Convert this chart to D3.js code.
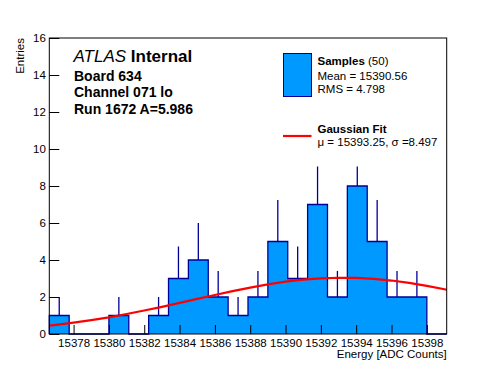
<!DOCTYPE html>
<html>
<head>
<meta charset="utf-8">
<script src="https://cdn.jsdelivr.net/npm/d3@7"></script>
<style>
  body { margin: 0; background: #fff; }
  text { font-family: "Liberation Sans", Arial, Helvetica, sans-serif; }
</style>
</head>
<body>
<svg id="canvas"></svg>
<script>
// histogram: 20 bins between xLow and xHigh
let xLow = 15376.625
let xHigh = 15399.125
let binCounts = [1, 0, 0, 1, 0, 1, 3, 4, 2, 1, 2, 5, 3, 7, 2, 8, 5, 2, 2, 0]
let binErrors = [1, 0, 0, 1, 0, 1, 1.73, 2, 1.41, 1, 1.41, 2.24, 1.73, 2.65, 1.41, 2.83, 2.24, 1.41, 1.41, 0]

// gaussian fit curve
let fitX = [15376.625, 15377, 15378, 15379, 15380, 15381, 15382, 15383, 15384, 15385, 15386, 15387,
            15388, 15389, 15390, 15391, 15392, 15393, 15394, 15395, 15396, 15397, 15398, 15399, 15399.125]
let fitY = [0.45, 0.49, 0.61, 0.75, 0.90, 1.08, 1.27, 1.47, 1.68, 1.90, 2.11, 2.32,
            2.51, 2.68, 2.83, 2.94, 3.01, 3.04, 3.03, 2.98, 2.89, 2.76, 2.60, 2.42, 2.39]

let xTicks = [15378, 15380, 15382, 15384, 15386, 15388, 15390, 15392, 15394, 15396, 15398]
let yTicks = [0, 2, 4, 6, 8, 10, 12, 14, 16]

let headerLines = ['Board 634', 'Channel 071 lo', 'Run 1672 A=5.986']
let legendSamples = ['Mean = 15390.56', 'RMS = 4.798']
let legendFit = '\u03bc = 15393.25, \u03c3 =8.497'

let fillColor = 'rgb(0, 153, 255)'
let lineColor = 'rgb(0, 0, 153)'

let svg = d3.select('#canvas')
            .attr('width', 496)
            .attr('height', 372)

let plotLeft = 49.3, plotRight = 446.7, plotTop = 38, plotBottom = 334

let x = d3.scaleLinear().domain([xLow, xHigh]).range([plotLeft, plotRight])
let y = d3.scaleLinear().domain([0, 16]).range([plotBottom, plotTop])

let binWidth = (xHigh - xLow) / binCounts.length
let bins = binCounts.map((c, i) => {
    return {x0: xLow + i * binWidth, x1: xLow + (i + 1) * binWidth, n: c, err: binErrors[i]}
})

// error bars first (the fill hides their lower half)
svg.selectAll('.err')
    .data(bins.filter((b) => b.n > 0))
    .enter()
    .append('line')
    .attr('class', 'err')
    .attr('x1', (b) => x((b.x0 + b.x1) / 2))
    .attr('x2', (b) => x((b.x0 + b.x1) / 2))
    .attr('y1', (b) => y(b.n - b.err))
    .attr('y2', (b) => y(b.n + b.err))
    .attr('stroke', lineColor)
    .attr('stroke-width', 1.3)

// filled step histogram
let stepPoints = [[xLow, 0]]
bins.forEach((b) => {
    stepPoints.push([b.x0, b.n])
    stepPoints.push([b.x1, b.n])
})
stepPoints.push([xHigh, 0])

let stepLine = d3.line()
                .x((p) => x(p[0]))
                .y((p) => y(p[1]))

svg.append('path')
    .attr('d', stepLine(stepPoints) + 'Z')
    .attr('fill', fillColor)
    .attr('stroke', 'none')

svg.append('path')
    .attr('d', stepLine(stepPoints))
    .attr('fill', 'none')
    .attr('stroke', lineColor)
    .attr('stroke-width', 1.3)

// fit curve
svg.append('path')
    .attr('d', d3.line().x((d, i) => x(fitX[i])).y((d) => y(d))(fitY))
    .attr('fill', 'none')
    .attr('stroke', 'red')
    .attr('stroke-width', 2.2)

// frame
svg.append('rect')
    .attr('x', plotLeft)
    .attr('y', plotTop)
    .attr('width', plotRight - plotLeft)
    .attr('height', plotBottom - plotTop)
    .attr('fill', 'none')
    .attr('stroke', 'black')
    .attr('stroke-width', 1)

// x axis, ticks pointing inward
let xAxis = d3.axisTop(x)
                .tickValues(xTicks)
                .tickSize(9)
                .tickFormat(d3.format('d'))
let xMinor = d3.axisTop(x)
                .tickValues(d3.range(15377, 15399.2, 0.5))
                .tickSize(4.5)
                .tickFormat('')

let gx = svg.append('g').attr('transform', 'translate(0,' + plotBottom + ')')
gx.call(xMinor)
gx.call(xAxis)
gx.selectAll('.domain').remove()
gx.selectAll('text')
    .attr('y', 12.5)
    .attr('dy', 0)
    .attr('font-size', '11.5px')
    .attr('fill', 'black')

let yAxis = d3.axisRight(y)
                .tickValues(yTicks)
                .tickSize(10)
let yMinor = d3.axisRight(y)
                .tickValues(d3.range(0, 16.01, 0.5))
                .tickSize(5)
                .tickFormat('')

let gy = svg.append('g').attr('transform', 'translate(' + plotLeft + ',0)')
gy.call(yMinor)
gy.call(yAxis)
gy.selectAll('.domain').remove()
gy.selectAll('text')
    .attr('x', -3.5)
    .attr('text-anchor', 'end')
    .attr('font-size', '11.5px')
    .attr('fill', 'black')

svg.selectAll('.tick line').attr('stroke', 'black')

// axis titles
svg.append('text')
    .attr('x', plotRight)
    .attr('y', 358)
    .attr('text-anchor', 'end')
    .attr('font-size', '11.5px')
    .text('Energy [ADC Counts]')

svg.append('text')
    .attr('transform', 'translate(23.5,' + plotTop + ') rotate(-90)')
    .attr('text-anchor', 'end')
    .attr('font-size', '11.5px')
    .text('Entries')

// header text
let atlas = svg.append('text')
                .attr('x', 73.5)
                .attr('y', 61.5)
                .attr('font-size', '17px')
atlas.append('tspan').attr('font-style', 'italic').text('ATLAS ')
atlas.append('tspan').attr('font-weight', 'bold').text('Internal')

svg.selectAll('.header')
    .data(headerLines)
    .enter()
    .append('text')
    .attr('class', 'header')
    .attr('x', 74)
    .attr('y', (d, i) => 80.5 + i * 16.7)
    .attr('font-size', '14px')
    .attr('font-weight', 'bold')
    .text((d) => d)

// legend (opaque, covers the tallest error bars)
svg.append('rect')
    .attr('x', 272)
    .attr('y', 44)
    .attr('width', 168)
    .attr('height', 122.5)
    .attr('fill', 'white')

svg.append('rect')
    .attr('x', 283.5)
    .attr('y', 53.5)
    .attr('width', 28)
    .attr('height', 43)
    .attr('fill', fillColor)
    .attr('stroke', lineColor)
    .attr('stroke-width', 1)

let samples = svg.append('text')
                .attr('x', 317.5)
                .attr('y', 65)
                .attr('font-size', '11.5px')
samples.append('tspan').attr('font-weight', 'bold').text('Samples')
samples.append('tspan').text(' (50)')

svg.selectAll('.legstat')
    .data(legendSamples)
    .enter()
    .append('text')
    .attr('class', 'legstat')
    .attr('x', 317.5)
    .attr('y', (d, i) => 80 + i * 13.3)
    .attr('font-size', '11.5px')
    .text((d) => d)

svg.append('line')
    .attr('x1', 283)
    .attr('x2', 311.5)
    .attr('y1', 136)
    .attr('y2', 136)
    .attr('stroke', 'red')
    .attr('stroke-width', 2.2)

svg.append('text')
    .attr('x', 317.5)
    .attr('y', 132.5)
    .attr('font-size', '11.5px')
    .attr('font-weight', 'bold')
    .text('Gaussian Fit')

svg.append('text')
    .attr('x', 317.5)
    .attr('y', 145.5)
    .attr('font-size', '11.5px')
    .text(legendFit)
</script>
</body>
</html>
